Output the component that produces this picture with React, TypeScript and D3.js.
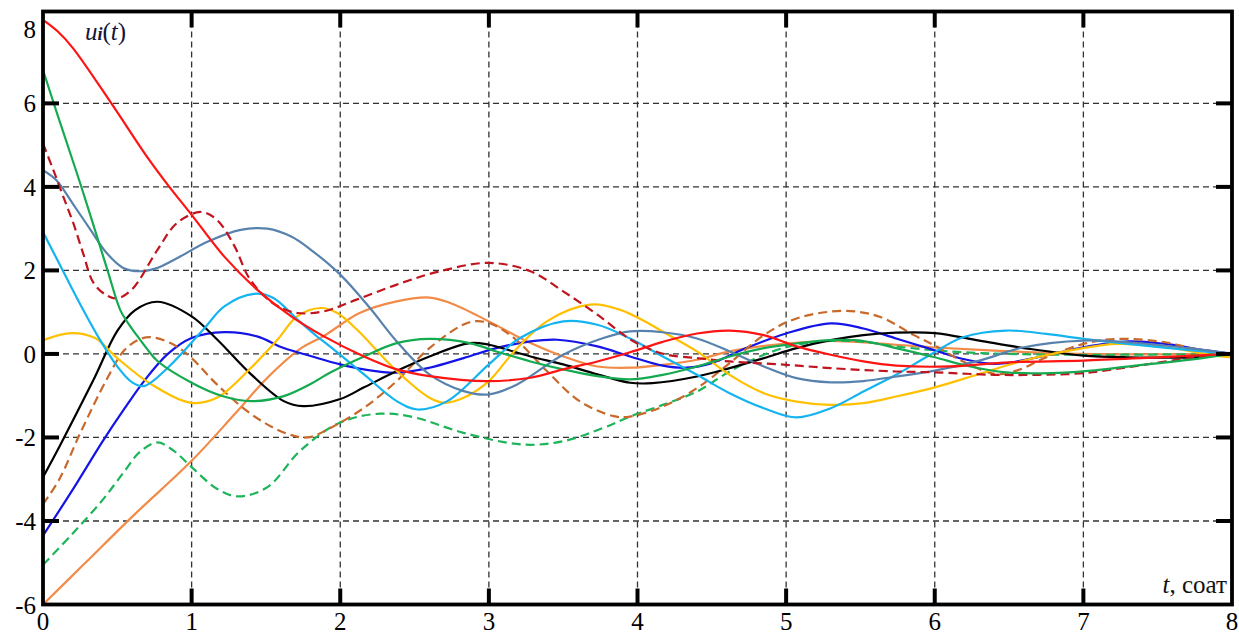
import React from "react";
import * as d3 from "d3";

// Time responses u_i(t) of eleven coupled signals, t in hours (соат).
type Pt = [number, number];

const redSolid: Pt[] = [[0,8.0],[0.1,7.72],[0.2,7.33],[0.46,6.0],[0.71,4.67],[0.85,4.0],[1,3.33],[1.22,2.33],[1.44,1.54],[1.67,0.9],[1.89,0.42],[2.16,-0.06],[2.38,-0.37],[2.6,-0.53],[2.99,-0.65],[3.28,-0.57],[3.5,-0.37],[3.73,-0.18],[3.95,0.04],[4.17,0.29],[4.4,0.49],[4.62,0.56],[4.85,0.45],[5.07,0.18],[5.3,-0.02],[5.52,-0.18],[5.74,-0.28],[6.1,-0.3],[6.5,-0.2],[7,-0.16],[7.5,-0.08],[8,0]];
const greenSolid: Pt[] = [[0,6.8],[0.1,5.7],[0.26,3.98],[0.43,2.05],[0.52,1.05],[0.57,0.75],[0.62,0.5],[0.7,0.12],[0.77,-0.17],[1,-0.69],[1.2,-1.0],[1.4,-1.13],[1.62,-1.01],[1.8,-0.72],[1.93,-0.45],[2.16,-0.06],[2.38,0.26],[2.6,0.36],[2.87,0.26],[3.05,0.06],[3.28,-0.18],[3.5,-0.37],[3.73,-0.53],[3.95,-0.61],[4.17,-0.5],[4.4,-0.3],[4.62,-0.06],[4.85,0.14],[5.07,0.25],[5.3,0.33],[5.52,0.31],[5.74,0.14],[6,-0.08],[6.2,-0.27],[6.48,-0.44],[6.9,-0.44],[7.35,-0.28],[7.8,-0.1],[8,0]];
const darkRedDashed: Pt[] = [[0,5.04],[0.07,4.4],[0.137,3.76],[0.204,3.13],[0.27,2.41],[0.34,1.7],[0.43,1.4],[0.5,1.33],[0.6,1.55],[0.77,2.49],[0.9,3.13],[1.06,3.4],[1.17,3.21],[1.29,2.57],[1.38,1.86],[1.49,1.38],[1.58,1.14],[1.71,0.98],[1.89,1.02],[2.11,1.3],[2.38,1.66],[2.67,1.98],[3,2.18],[3.28,1.98],[3.5,1.5],[3.73,0.94],[3.95,0.35],[4.08,0.12],[4.2,-0.02],[4.4,-0.1],[4.62,-0.18],[5,-0.26],[5.3,-0.34],[5.74,-0.42],[6,-0.44],[6.4,-0.5],[6.7,-0.5],[7,-0.46],[7.3,-0.32],[7.75,-0.08],[8,0]];
const slateSolid: Pt[] = [[0,4.4],[0.09,4.16],[0.2,3.6],[0.32,2.97],[0.43,2.41],[0.54,2.06],[0.65,1.98],[0.76,2.05],[0.88,2.25],[1.11,2.69],[1.33,2.97],[1.51,3.0],[1.67,2.81],[1.8,2.5],[2,1.9],[2.2,1.1],[2.38,0.3],[2.6,-0.49],[2.83,-0.89],[3,-0.97],[3.19,-0.73],[3.5,-0.02],[3.77,0.38],[3.95,0.54],[4.17,0.52],[4.4,0.37],[4.62,0.06],[4.85,-0.3],[5.07,-0.58],[5.3,-0.68],[5.52,-0.65],[5.74,-0.54],[6,-0.4],[6.3,-0.16],[6.6,0.16],[7,0.32],[7.3,0.28],[7.75,0.12],[8,0]];
const lightBlueSolid: Pt[] = [[0,2.92],[0.14,1.95],[0.27,1.06],[0.39,0.3],[0.5,-0.3],[0.6,-0.68],[0.68,-0.77],[0.84,-0.33],[1.08,0.59],[1.22,1.14],[1.42,1.44],[1.55,1.34],[1.71,0.83],[1.84,0.43],[1.93,0.18],[2.16,-0.49],[2.38,-1.13],[2.52,-1.33],[2.72,-1.13],[3,-0.25],[3.21,0.38],[3.5,0.78],[3.73,0.7],[3.95,0.37],[4.17,-0.06],[4.4,-0.5],[4.62,-0.94],[4.85,-1.3],[5.07,-1.52],[5.3,-1.3],[5.52,-0.9],[5.74,-0.5],[5.97,-0.02],[6.19,0.4],[6.48,0.56],[6.75,0.48],[7,0.36],[7.3,0.24],[7.75,0.08],[8,0]];
const goldSolid: Pt[] = [[0,0.33],[0.19,0.5],[0.35,0.38],[0.5,-0.1],[0.73,-0.73],[1,-1.17],[1.17,-1.05],[1.4,-0.33],[1.58,0.35],[1.71,0.9],[1.87,1.1],[1.98,0.98],[2.11,0.59],[2.38,-0.41],[2.6,-1.05],[2.7,-1.17],[2.83,-1.05],[3,-0.65],[3.17,0.06],[3.39,0.78],[3.68,1.18],[3.88,1.06],[4.09,0.7],[4.17,0.53],[4.4,0.06],[4.62,-0.5],[4.85,-0.94],[5.07,-1.14],[5.3,-1.22],[5.52,-1.18],[5.74,-1.02],[6,-0.8],[6.3,-0.48],[6.64,-0.12],[7,0.14],[7.22,0.24],[7.55,0.16],[7.9,-0.05],[8,-0.08]];
const blackSolid: Pt[] = [[0,-2.95],[0.11,-2.22],[0.34,-0.62],[0.5,0.55],[0.62,1.05],[0.77,1.25],[1,0.9],[1.17,0.35],[1.4,-0.49],[1.62,-1.13],[1.75,-1.25],[2,-1.08],[2.16,-0.8],[2.38,-0.41],[2.6,-0.06],[2.87,0.26],[3,0.22],[3.28,-0.06],[3.5,-0.25],[3.73,-0.49],[3.95,-0.69],[4.1,-0.7],[4.4,-0.54],[4.62,-0.34],[4.85,-0.1],[5.07,0.14],[5.3,0.33],[5.52,0.45],[5.74,0.51],[6,0.5],[6.3,0.32],[6.64,0.12],[7,-0.04],[7.3,-0.08],[7.75,-0.08],[8,0]];
const brownDashed: Pt[] = [[0,-3.6],[0.11,-3.0],[0.25,-1.9],[0.43,-0.6],[0.55,0.1],[0.65,0.35],[0.73,0.4],[0.88,0.22],[1,-0.1],[1.17,-0.73],[1.4,-1.44],[1.62,-1.88],[1.78,-2.0],[1.93,-1.78],[2.16,-1.29],[2.38,-0.65],[2.6,0.14],[2.87,0.76],[3,0.74],[3.17,0.38],[3.39,-0.41],[3.61,-1.13],[3.84,-1.49],[3.95,-1.5],[4.17,-1.26],[4.4,-0.82],[4.62,-0.22],[4.85,0.45],[5.07,0.85],[5.39,1.03],[5.63,0.89],[5.86,0.45],[6,0.2],[6.2,-0.2],[6.41,-0.48],[6.55,-0.4],[6.75,-0.08],[7,0.24],[7.22,0.36],[7.55,0.28],[7.75,0.12],[8,0]];
const blueSolid: Pt[] = [[0,-4.35],[0.2,-3.25],[0.4,-2.1],[0.55,-1.3],[0.68,-0.65],[0.84,0.0],[1,0.38],[1.22,0.52],[1.44,0.42],[1.62,0.14],[1.8,-0.05],[2,-0.25],[2.16,-0.37],[2.38,-0.45],[2.6,-0.33],[2.83,-0.1],[3.05,0.14],[3.28,0.3],[3.46,0.34],[3.73,0.18],[3.95,-0.06],[4.17,-0.28],[4.33,-0.33],[4.5,-0.22],[4.73,0.14],[5,0.49],[5.3,0.73],[5.52,0.61],[5.74,0.37],[5.97,0.12],[6.19,-0.12],[6.41,-0.24],[6.64,-0.12],[7,0.16],[7.31,0.3],[7.55,0.24],[7.8,0.1],[8,0]];
const greenDashed: Pt[] = [[0,-5.05],[0.2,-4.3],[0.4,-3.5],[0.55,-2.8],[0.65,-2.35],[0.77,-2.12],[0.88,-2.32],[1,-2.71],[1.17,-3.23],[1.31,-3.41],[1.51,-3.19],[1.73,-2.32],[2,-1.64],[2.27,-1.43],[2.5,-1.52],[2.83,-1.89],[3.23,-2.17],[3.5,-2.09],[3.77,-1.77],[3.95,-1.5],[4.17,-1.22],[4.4,-0.9],[4.62,-0.42],[4.85,-0.02],[5.07,0.22],[5.3,0.31],[5.52,0.29],[5.74,0.18],[6.1,0.06],[6.5,0.0],[7,-0.02],[8,0]];
const orangeSolid: Pt[] = [[0,-6],[0.28,-5.02],[0.62,-3.83],[1,-2.56],[1.29,-1.44],[1.51,-0.57],[1.73,0.12],[1.89,0.43],[2.13,0.98],[2.38,1.26],[2.6,1.35],[2.74,1.22],[3,0.78],[3.28,0.26],[3.5,-0.06],[3.73,-0.3],[3.95,-0.33],[4.17,-0.26],[4.4,-0.14],[4.62,0.06],[5,0.25],[5.3,0.31],[5.74,0.22],[5.97,0.16],[6.4,0.08],[7,0],[8,0]];

const xTicks = [0, 1, 2, 3, 4, 5, 6, 7, 8];
const yTicks = [-6, -4, -2, 0, 2, 4, 6, 8];

const seriesList = [
  { data: orangeSolid, color: "#F28B48", dashed: false },
  { data: greenDashed, color: "#1DB45A", dashed: true },
  { data: blueSolid, color: "#1414E6", dashed: false },
  { data: brownDashed, color: "#C8692B", dashed: true },
  { data: blackSolid, color: "#000000", dashed: false },
  { data: goldSolid, color: "#FFC000", dashed: false },
  { data: lightBlueSolid, color: "#14B4F0", dashed: false },
  { data: slateSolid, color: "#5882AE", dashed: false },
  { data: darkRedDashed, color: "#C0141E", dashed: true },
  { data: greenSolid, color: "#14AA50", dashed: false },
  { data: redSolid, color: "#FF1414", dashed: false },
];

const W = 1239;
const H = 634;
const left = 43;
const right = 1232;
const top = 11.5;
const bottom = 604.5;

const SERIF = "Liberation Serif, DejaVu Serif, Times New Roman, serif";

export default function App() {
  const x = d3.scaleLinear().domain([0, 8]).range([left, right]);
  const y = d3.scaleLinear().domain([-6, 8.2]).range([bottom, top]);
  const line = d3
    .line<Pt>()
    .x((d) => x(d[0]))
    .y((d) => y(d[1]))
    .curve(d3.curveCatmullRom.alpha(0.5));

  const tickLen = 16;
  const gridX = xTicks.filter((t) => t > 0 && t < 8);
  const gridY = yTicks.filter((v) => v > -6 && v < 8);
  const textStyle = { fontFamily: SERIF };

  return (
    <svg
      width={W}
      height={H}
      style={{ position: "absolute", left: 0, top: 0, background: "#fff" }}
    >
      <defs>
        <clipPath id="plotClip">
          <rect x={left} y={top} width={right - left} height={bottom - top} />
        </clipPath>
      </defs>
      <rect x={0} y={0} width={W} height={H} fill="#fff" />

      {/* dashed grid */}
      <g stroke="#333" strokeWidth={1.3} strokeDasharray="6,4">
        {gridX.map((t) => (
          <line key={"gx" + t} x1={x(t)} x2={x(t)} y1={top} y2={bottom} />
        ))}
        {gridY.map((v) => (
          <line key={"gy" + v} x1={left} x2={right} y1={y(v)} y2={y(v)} />
        ))}
      </g>

      {/* curves */}
      <g clipPath="url(#plotClip)" fill="none">
        {seriesList.map((s, i) => (
          <path
            key={i}
            d={line(s.data) || ""}
            stroke={s.color}
            strokeWidth={2.2}
            strokeDasharray={s.dashed ? "9,5" : undefined}
            strokeLinejoin="round"
          />
        ))}
      </g>

      {/* frame */}
      <rect
        x={left}
        y={top}
        width={right - left}
        height={bottom - top}
        fill="none"
        stroke="#000"
        strokeWidth={3.8}
      />

      {/* inward ticks */}
      <g stroke="#000" strokeWidth={4}>
        {gridX.map((t) => (
          <g key={"tx" + t}>
            <line x1={x(t)} x2={x(t)} y1={bottom} y2={bottom - tickLen} />
            <line x1={x(t)} x2={x(t)} y1={top} y2={top + tickLen} />
          </g>
        ))}
        {gridY.map((v) => (
          <g key={"ty" + v}>
            <line x1={left} x2={left + tickLen} y1={y(v)} y2={y(v)} />
            <line x1={right} x2={right - tickLen} y1={y(v)} y2={y(v)} />
          </g>
        ))}
      </g>

      {/* tick labels */}
      <g fontSize={25} fill="#000" style={textStyle}>
        {yTicks.map((v) => (
          <text
            key={"ly" + v}
            x={36}
            y={v === 8 ? 38 : y(v) + 9}
            textAnchor="end"
            style={textStyle}
          >
            {v}
          </text>
        ))}
        {xTicks.map((t) => (
          <text
            key={"lx" + t}
            x={x(t)}
            y={630}
            textAnchor="middle"
            style={textStyle}
          >
            {t}
          </text>
        ))}
      </g>

      {/* axis titles */}
      <text x={85} y={40} fontSize={25} fill="#14143c" style={textStyle}>
        <tspan fontStyle="italic">u</tspan>
        <tspan fontStyle="italic" fontWeight="bold" fontSize={18}>i</tspan>
        <tspan>(</tspan>
        <tspan fontStyle="italic">t</tspan>
        <tspan>)</tspan>
      </text>
      <text
        x={1227}
        y={593}
        fontSize={25}
        fill="#111"
        textAnchor="end"
        style={textStyle}
      >
        <tspan fontStyle="italic">t</tspan>
        <tspan>, соат</tspan>
      </text>
    </svg>
  );
}
